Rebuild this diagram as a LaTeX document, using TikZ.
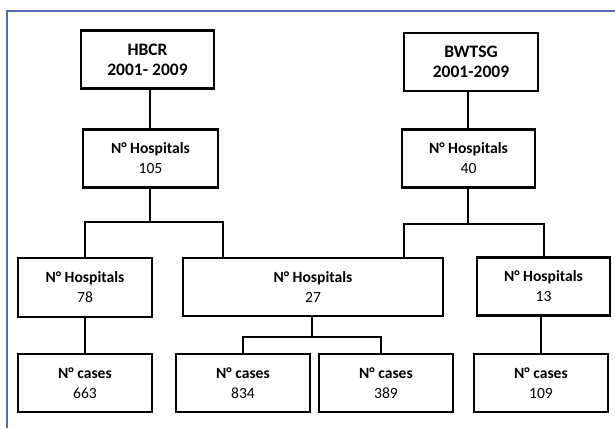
\documentclass[tikz,border=0pt]{standalone}
\usepackage{fontspec}
\setmainfont{Carlito}
\usepackage{xcolor}
\usepackage{tikz}
\usetikzlibrary{calc}
\definecolor{frameBlue}{RGB}{84,106,178}
\newcommand{\boxWidth}{134}
\newcommand{\boxHeight}{58}
\newcommand{\wideWidth}{260}
\newcommand{\hospitalLabel}{\textbf{N° Hospitals}}
\newcommand{\caseLabel}{\textbf{N° cases}}
\tikzset{
	studybox/.style={draw=black, line width=2.2pt, inner sep=0pt, minimum width=\boxWidth, minimum height=\boxHeight, align=center, font=\fontsize{17.5}{20}\selectfont\bfseries},
	countbox/.style={draw=black, line width=2.2pt, inner sep=0pt, minimum width=\boxWidth, minimum height=\boxHeight, align=center, font=\fontsize{15.6}{20}\selectfont},
	link/.style={line width=2pt, black}
}

\begin{document}
\begin{tikzpicture}[x=1pt, y=-1pt]
		\useasboundingbox (0,0) rectangle (615,428);
		% outer frame
		\draw[frameBlue, line width=1.2pt] (7,428) -- (7,11) -- (615,11);
		
		% registries
		\node[studybox, minimum width=133] (hbcr) at (147.5,59.5) {HBCR\\2001- 2009};
		\node[studybox] (bwtsg) at (471,62) {BWTSG\\2001-2009};
		
		% hospitals
		\node[countbox, minimum width=135] (h105) at (150.5,158.5) {\hospitalLabel\\105};
		\node[countbox, minimum width=133] (h40) at (468.5,158.5) {\hospitalLabel\\40};
		\node[countbox, minimum height=59] (h78) at (85,287.5) {\hospitalLabel\\78};
		\node[countbox, minimum width=\wideWidth] (h27) at (313,287) {\hospitalLabel\\27};
		\node[countbox, minimum width=133] (h13) at (543.5,286.5) {\hospitalLabel\\13};
		
		% cases
		\foreach \name/\x/\val in {c663/85/663, c834/243/834, c389/386/389, c109/541/109}
		{
			\node[countbox] (\name) at (\x,383) {\caseLabel\\\val};
		}
		
		% connectors
		\coordinate (jl) at (150,222);
		\coordinate (jla) at (223,222);
		\coordinate (jr) at (468,224);
		\coordinate (jra) at (404,224);
		\coordinate (jc) at (312,337);
		\coordinate (jca) at (381,337);
		
		\draw[link] (hbcr.south -| jl) -- (h105.north -| jl);
		\draw[link] (bwtsg.south -| jr) -- (h40.north -| jr);
		\draw[link] (h105.south -| jl) -- (jl) -| (h78.north);
		\draw[link] (jl) -- (jla) -- (jla |- h27.north);
		\draw[link] (h40.south -| jr) -- (jr) -| (h13.north);
		\draw[link] (jr) -- (jra) -- (jra |- h27.north);
		\draw[link] (h78) -- (c663);
		\draw[link] (h27.south -| jc) -- (jc) -| (c834.north);
		\draw[link] (jc) -- (jca) -- (jca |- c389.north);
		\draw[link] (h13.south -| c109) -- (c109.north);
\end{tikzpicture}
\end{document}
